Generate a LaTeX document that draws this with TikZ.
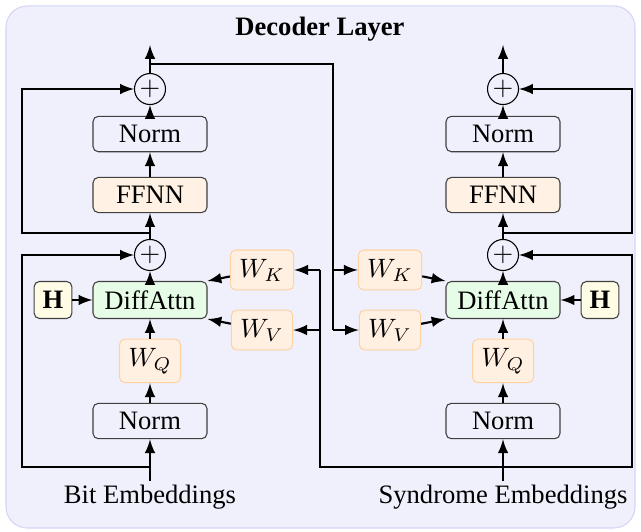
\documentclass[tikz,border=0pt]{standalone}
\usepackage{fontspec}
\setmainfont{Liberation Serif}
\usetikzlibrary{arrows.meta, positioning}
\definecolor{bgcol}{HTML}{F0F0FC}
\definecolor{bgline}{HTML}{D4D4F8}
\definecolor{ffncol}{HTML}{FFF1E4}
\definecolor{wcol}{HTML}{FFF0E2}
\definecolor{wline}{HTML}{FFD2A4}
\definecolor{attncol}{HTML}{E6FCE6}
\definecolor{hcol}{HTML}{FFFCE6}
\tikzstyle{block}=[draw=black!75,thin,fill=bgcol,rectangle,rounded corners=2pt,minimum width=1.507cm,minimum height=0.463cm]
\tikzstyle{ffn}=[block,fill=ffncol]
\tikzstyle{attn}=[block,fill=attncol,minimum height=0.489cm]
\tikzstyle{hmat}=[block,fill=hcol,minimum width=0.5cm,minimum height=0.489cm,inner sep=1pt]
\tikzstyle{proj}=[draw=wline,thin,fill=wcol,rectangle,rounded corners=2pt,minimum width=0.806cm,minimum height=0.5cm]
\tikzstyle{add}=[draw,thin,fill=bgcol,circle,inner sep=0pt,minimum size=0.41cm]
\tikzstyle{embtext}=[inner sep=1pt]

\begin{document}
\begin{tikzpicture}[auto,on grid,>=latex,thick]
    \useasboundingbox (-1.983,3.966) rectangle (6.491,-3.054);
    \draw[bgline,fill=bgcol,rounded corners=8pt,thin] (-1.904,3.887) rectangle (6.412,-3.014);
    \node[font=\bfseries] (title) at (2.247,3.58) {Decoder Layer};

    % bit side
    \node[attn] (attnB) {DiffAttn};
    \node[proj, below=0.806 of attnB] (wqB) {$W_Q$};
    \node[block, below=1.600 of attnB] (normB1) {Norm};
    \node[embtext, below=2.604 of attnB] (bits) {Bit Embeddings};
    \node[hmat, left=1.282 of attnB] (hB) {\textbf{H}};
    \node[add, above=0.595 of attnB] (addB1) {$+$};
    \node[ffn, above=1.388 of attnB] (ffnB) {FFNN};
    \node[block, above=2.194 of attnB] (normB2) {Norm};
    \node[add, above=2.789 of attnB] (addB2) {$+$};
    \node[proj, above right=0.397 and 1.481 of attnB] (wkB) {$W_K$};
    \node[proj, below right=0.397 and 1.481 of attnB] (wvB) {$W_V$};
    \coordinate[above=3.371 of attnB] (outB);
    \coordinate[above=3.120 of attnB] (tapB);
    \coordinate[above=0.886 of attnB] (midB);
    \coordinate[below=2.208 of attnB] (inB);
    \coordinate[left=1.692 of attnB] (sideB);
    \coordinate[right=2.247 of attnB] (crossB);
    \coordinate[right=2.419 of attnB] (crossS);

    % syndrome side
    \node[attn, right=4.667 of attnB] (attnS) {DiffAttn};
    \node[proj, below=0.806 of attnS] (wqS) {$W_Q$};
    \node[block, below=1.600 of attnS] (normS1) {Norm};
    \node[embtext, below=2.604 of attnS] (synd) {Syndrome Embeddings};
    \node[hmat, right=1.282 of attnS] (hS) {\textbf{H}};
    \node[add, above=0.595 of attnS] (addS1) {$+$};
    \node[ffn, above=1.388 of attnS] (ffnS) {FFNN};
    \node[block, above=2.194 of attnS] (normS2) {Norm};
    \node[add, above=2.789 of attnS] (addS2) {$+$};
    \node[proj, above left=0.397 and 1.494 of attnS] (wkS) {$W_K$};
    \node[proj, below left=0.397 and 1.494 of attnS] (wvS) {$W_V$};
    \coordinate[above=3.371 of attnS] (outS);
    \coordinate[above=0.886 of attnS] (midS);
    \coordinate[below=2.208 of attnS] (inS);
    \coordinate[right=1.705 of attnS] (sideS);

    \draw[->] (bits) -- (normB1);
    \draw[->] (normB1) -- (wqB);
    \draw[->] (wqB) -- (attnB);
    \draw[->] (hB) -- (attnB);
    \draw[->] (wkB) -- (attnB.north east);
    \draw[->] (wvB) -- (attnB.south east);
    \draw[->] (attnB) -- (addB1);
    \draw[->] (addB1) -- (ffnB);
    \draw[->] (ffnB) -- (normB2);
    \draw[->] (normB2) -- (addB2);
    \draw[->] (addB2) -- (outB);
    \draw[->] (inB) -| (sideB |- addB1) -- (addB1);
    \draw[->] (midB) -| (sideB |- addB2) -- (addB2);

    \draw[->] (synd) -- (normS1);
    \draw[->] (normS1) -- (wqS);
    \draw[->] (wqS) -- (attnS);
    \draw[->] (hS) -- (attnS);
    \draw[->] (wkS) -- (attnS.north west);
    \draw[->] (wvS) -- (attnS.south west);
    \draw[->] (attnS) -- (addS1);
    \draw[->] (addS1) -- (ffnS);
    \draw[->] (ffnS) -- (normS2);
    \draw[->] (normS2) -- (addS2);
    \draw[->] (addS2) -- (outS);
    \draw[->] (inS) -| (sideS |- addS1) -- (addS1);
    \draw[->] (midS) -| (sideS |- addS2) -- (addS2);

    \draw (tapB) -| (crossS |- wvS);
    \draw[->] (crossS |- wkS) -- (wkS);
    \draw[->] (crossS |- wvS) -- (wvS);
    \draw (inS) -| (crossB |- wkB);
    \draw[->] (crossB |- wkB) -- (wkB);
    \draw[->] (crossB |- wvB) -- (wvB);
\end{tikzpicture}
\end{document}
